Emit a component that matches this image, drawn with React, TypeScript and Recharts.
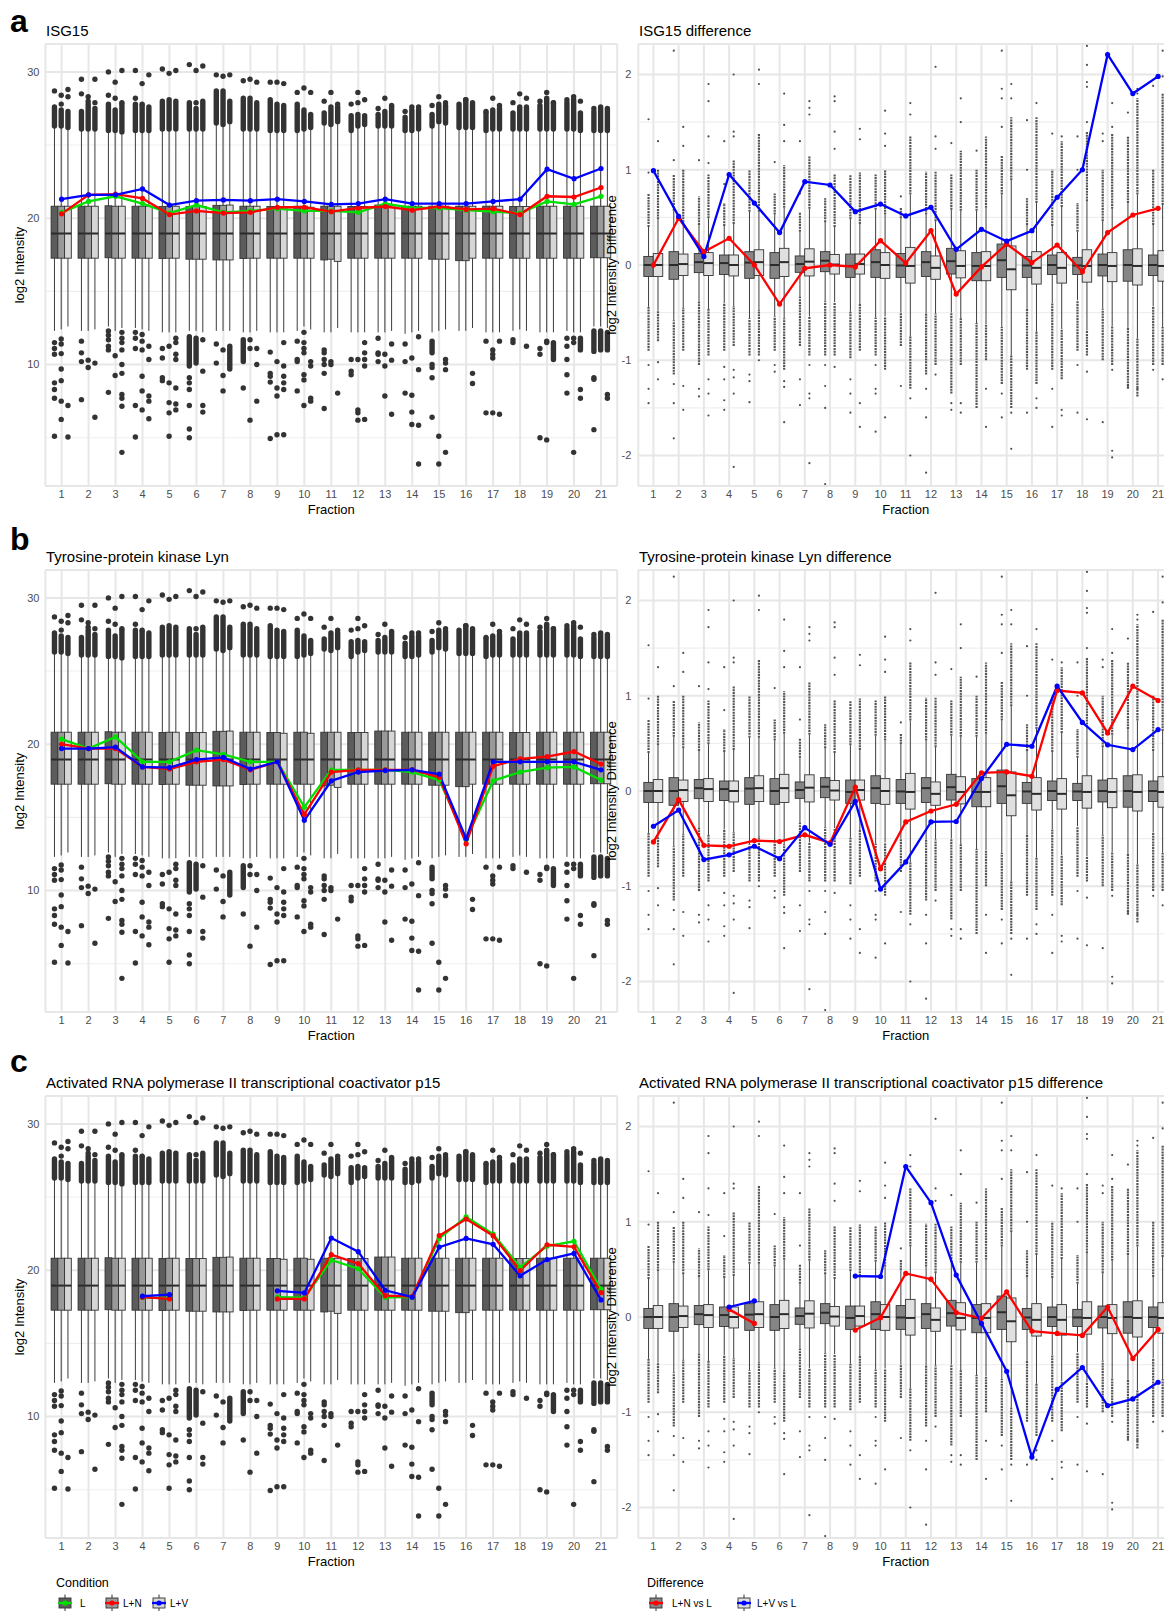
import React from "react";
import { ComposedChart, Bar, Line, XAxis, YAxis, CartesianGrid } from "recharts";

const fractions = ["1", "2", "3", "4", "5", "6", "7", "8", "9", "10", "11", "12", "13", "14", "15", "16", "17", "18", "19", "20", "21"];

// ---------- left panels: log2 intensity distribution per condition ----------
// [lower whisker, q1, median, q3, upper whisker]
const statsL = [
  [12.3, 17.27, 18.95, 20.82, 26.3], [12.3, 17.27, 18.95, 20.82, 26.1], [12.6, 17.3, 18.95, 20.85, 26.0],
  [12.5, 17.27, 18.95, 20.82, 26.0], [12.2, 17.25, 18.95, 20.8, 26.1], [12.3, 17.2, 18.95, 20.8, 26.1],
  [12.3, 17.15, 18.95, 20.88, 26.5], [12.2, 17.25, 18.95, 20.82, 26.1], [12.2, 17.27, 18.95, 20.8, 26.0],
  [12.3, 17.27, 18.95, 20.82, 26.0], [12.2, 17.15, 18.95, 20.82, 26.5], [12.2, 17.27, 18.95, 20.8, 26.0],
  [12.2, 17.27, 18.95, 20.9, 26.3], [12.1, 17.27, 18.95, 20.82, 26.0], [12.2, 17.2, 18.95, 20.82, 26.3],
  [12.3, 17.1, 18.95, 20.82, 26.2], [12.2, 17.27, 18.95, 20.82, 26.0], [12.3, 17.27, 18.95, 20.8, 26.1],
  [12.2, 17.27, 18.95, 20.82, 26.1], [12.3, 17.27, 18.95, 20.82, 26.1], [12.6, 17.3, 18.95, 20.82, 26.0],
];
const statsLN = [
  [12.4, 17.27, 18.95, 20.82, 26.3], [12.3, 17.27, 18.95, 20.82, 26.1], [12.3, 17.27, 18.95, 20.82, 26.0],
  [12.4, 17.27, 18.95, 20.82, 26.0], [12.2, 17.27, 18.95, 20.82, 26.1], [12.3, 17.2, 18.95, 20.8, 26.1],
  [12.3, 17.15, 18.95, 20.88, 26.4], [12.2, 17.27, 18.95, 20.82, 26.1], [12.2, 17.27, 18.95, 20.8, 26.0],
  [12.6, 17.27, 18.95, 20.82, 26.1], [12.2, 17.2, 18.95, 20.82, 26.4], [12.2, 17.27, 18.95, 20.8, 26.3],
  [12.2, 17.27, 18.95, 20.9, 26.3], [12.2, 17.27, 18.95, 20.82, 26.0], [12.3, 17.2, 18.95, 20.82, 26.6],
  [12.3, 17.1, 18.95, 20.82, 26.2], [12.2, 17.27, 18.95, 20.82, 26.1], [12.4, 17.27, 18.95, 20.8, 26.1],
  [12.2, 17.27, 18.95, 20.82, 26.1], [12.2, 17.27, 18.95, 20.82, 26.1], [12.6, 17.3, 18.95, 20.82, 26.0],
];
const statsLV = [
  [12.6, 17.27, 18.95, 20.82, 26.2], [12.4, 17.27, 18.95, 20.82, 26.1], [12.5, 17.27, 18.95, 20.82, 25.9],
  [12.3, 17.27, 18.95, 20.82, 26.0], [12.2, 17.27, 18.95, 20.82, 26.1], [12.2, 17.2, 18.95, 20.8, 26.1],
  [12.3, 17.15, 18.95, 20.9, 26.6], [12.3, 17.27, 18.95, 20.82, 26.1], [12.2, 17.27, 18.95, 20.75, 26.0],
  [12.4, 17.27, 18.95, 20.75, 26.2], [12.5, 17.05, 18.95, 20.82, 26.6], [12.2, 17.27, 18.95, 20.8, 26.4],
  [12.3, 17.27, 18.95, 20.9, 26.3], [12.3, 17.27, 18.95, 20.82, 26.1], [12.4, 17.2, 18.95, 20.82, 26.5],
  [12.5, 17.27, 18.95, 20.82, 26.2], [12.2, 17.27, 18.95, 20.82, 26.1], [12.3, 17.27, 18.95, 20.8, 26.1],
  [12.2, 17.27, 18.95, 20.82, 26.1], [12.2, 17.27, 18.95, 20.82, 26.0], [12.5, 17.3, 18.95, 20.82, 26.0],
];
// dense runs of outliers [from, to]
const topL = [[26.3, 27.6], [26.1, 27.3], [26.0, 27.8], [26.0, 27.8], [26.1, 28.0], [26.1, 27.9], [26.5, 28.7], [26.1, 28.2], [26.0, 28.1], [26.0, 27.8], [26.5, 27.2], [26.0, 27.0], [26.3, 27.1], [26.0, 26.9], [26.3, 27.1], [26.2, 27.8], [26.0, 27.2], [26.1, 27.2], [26.1, 27.7], [26.1, 27.9], [26.0, 27.3]];
const topLN = [[26.3, 27.4], [26.1, 27.8], [26.0, 27.4], [26.0, 27.7], [26.1, 28.1], [26.1, 27.5], [26.4, 28.7], [26.1, 28.2], [26.0, 27.8], [26.1, 27.4], [26.4, 27.6], [26.3, 27.1], [26.3, 27.3], [26.0, 27.4], [26.6, 27.8], [26.2, 28.1], [26.1, 27.4], [26.1, 27.6], [26.1, 28.2], [26.1, 28.1], [26.0, 27.6]];
const topLV = [[26.2, 27.3], [26.1, 27.5], [25.9, 27.8], [26.0, 27.6], [26.1, 28.0], [26.1, 28.0], [26.6, 28.0], [26.1, 27.9], [26.0, 27.7], [26.2, 27.1], [26.6, 27.6], [26.4, 27.0], [26.3, 27.6], [26.1, 27.4], [26.5, 27.7], [26.2, 27.8], [26.1, 27.5], [26.1, 27.6], [26.1, 27.9], [26.0, 27.2], [26.0, 27.5]];
const lowL = [null, null, null, null, null, [9.9, 11.9], null, [10.2, 11.7], null, null, null, null, null, null, [10.8, 11.6], null, null, null, null, null, [10.9, 12.3]];
const lowLN = [null, null, null, null, null, [10.1, 11.8], null, null, null, null, null, null, null, null, null, null, null, null, null, null, [11.0, 12.3]];
const lowLV = [null, null, null, null, null, null, [9.7, 11.25], null, null, null, null, null, null, null, null, null, null, null, [10.35, 11.5], [11.0, 11.8], [11.0, 12.2]];
// single outliers
const outL = [
  [28.7, 11.5, 11.1, 10.7, 8.75, 8.3, 7.7, 5.1], [29.5, 28.5, 11.6, 10.8, 10.2, 7.6], [30.0, 28.4, 12.3, 12.0, 11.7, 11.25, 11.0, 8.1],
  [30.1, 28.2, 12.2, 11.8, 11.1, 7.2, 5.05], [30.2, 11.1, 10.45, 9.1, 8.9], [30.5, 9.1, 8.75, 8.3, 7.2, 5.6, 5.0],
  [29.8, 11.4, 10.1], [29.4, 8.4], [29.3, 10.85, 9.4, 9.2, 8.8, 4.95],
  [28.6, 11.6, 10.35, 10.2, 8.2], [28.0, 11.0, 10.8, 10.35, 10.0, 9.4, 7.0], [27.8, 10.35, 9.55, 9.3],
  [27.5, 11.8, 10.8, 10.7, 10.2], [27.3, 11.4, 10.2, 8.05], [27.7, 10.0, 9.8, 9.1, 6.4],
  [], [27.3, 11.6, 6.7], [27.9, 11.7, 11.5],
  [28.0, 11.1, 10.7, 5.0], [28.1, 11.8, 11.25, 10.35, 9.3, 8.05], [27.5, 9.1, 9.0, 5.55],
];
const outLN = [
  [28.4, 27.8, 11.75, 11.4, 10.75, 9.7, 8.9, 7.5, 6.25], [28.3, 28.0, 10.3, 9.8], [29.3, 28.2, 10.6, 9.25],
  [29.2, 27.8, 12.05, 11.6, 11.0, 9.2, 8.2, 6.9], [29.9, 11.25, 8.75, 7.4, 6.7, 5.1], [30.1, 27.9],
  [29.7, 11.0, 9.25, 8.2], [29.5, 11.7, 11.1, 6.2], [29.3, 10.2, 8.4, 7.85, 5.2],
  [28.9, 12.2, 11.5, 11.1, 10.8, 9.3, 8.95, 7.2], [28.6, 10.2, 10.0], [28.6, 27.9, 10.35, 6.9, 6.7, 6.2],
  [28.2, 10.7, 9.9, 7.85], [27.6, 10.45, 7.9, 6.75, 5.9], [28.3, 5.1, 3.2],
  [28.1], [28.2, 11.0, 10.7, 10.45, 6.7], [28.5],
  [28.6, 11.6, 11.5, 4.85], [28.3, 11.8, 11.5, 4.0], [],
];
const outLV = [
  [28.8, 28.3, 7.2, 5.05], [29.5, 27.9, 10.1, 6.4], [30.1, 27.9, 12.2, 11.8, 11.5, 11.0, 10.0, 9.4, 7.95, 7.7, 7.15, 4.0],
  [29.8, 11.25, 10.35, 7.85, 7.5, 6.3], [30.1, 11.8, 11.5, 10.7, 10.35, 8.4, 7.3, 6.9], [30.4, 11.7, 9.55, 7.2, 6.75],
  [29.8], [29.3, 11.1, 10.0, 7.5], [29.2, 11.5, 9.9, 9.2, 8.75, 8.3, 5.2],
  [28.6, 10.2, 9.9, 7.7, 7.5], [27.8, 8.05], [28.1, 11.5, 10.8, 10.35, 9.9, 6.25],
  [27.7, 11.4, 10.3, 6.6], [27.6, 11.9, 9.65, 5.85, 3.2], [27.9, 10.35, 10.1, 9.65, 4.0],
  [27.9, 9.4, 8.7], [27.7, 11.6, 6.6], [28.2, 11.25],
  [27.9], [28.0, 8.3, 7.7], [7.95, 7.7],
];

// ---------- right panels: log2 difference distribution ----------
const statsNvL = [
  [-0.44, -0.12, 0.0, 0.09, 0.4], [-0.58, -0.15, 0.0, 0.14, 0.57], [-0.38, -0.08, 0.03, 0.12, 0.42],
  [-0.4, -0.1, 0.02, 0.105, 0.41], [-0.56, -0.14, 0.025, 0.14, 0.56], [-0.54, -0.14, 0.0, 0.13, 0.53],
  [-0.33, -0.077, 0.01, 0.095, 0.35], [-0.38, -0.07, 0.045, 0.14, 0.45], [-0.49, -0.13, -0.01, 0.115, 0.48],
  [-0.55, -0.13, 0.03, 0.16, 0.58], [-0.5, -0.13, -0.005, 0.12, 0.49], [-0.51, -0.12, 0.03, 0.14, 0.53],
  [-0.5, -0.095, 0.04, 0.175, 0.58], [-0.61, -0.165, -0.01, 0.13, 0.57], [-0.65, -0.13, 0.05, 0.22, 0.74],
  [-0.46, -0.13, -0.005, 0.09, 0.42], [-0.4, -0.1, 0.0, 0.105, 0.41], [-0.37, -0.1, -0.005, 0.08, 0.35],
  [-0.46, -0.115, 0.0, 0.115, 0.46], [-0.66, -0.17, 0.0, 0.16, 0.65], [-0.43, -0.11, 0.0, 0.105, 0.42],
];
const statsVvL = [
  [-0.48, -0.12, 0.0, 0.12, 0.48], [-0.45, -0.11, 0.01, 0.115, 0.45], [-0.46, -0.11, 0.02, 0.13, 0.49],
  [-0.43, -0.115, 0.0, 0.105, 0.43], [-0.47, -0.11, 0.03, 0.16, 0.56], [-0.56, -0.12, 0.03, 0.175, 0.6],
  [-0.54, -0.115, 0.035, 0.17, 0.59], [-0.39, -0.095, 0.005, 0.11, 0.4], [-0.41, -0.095, 0.01, 0.115, 0.43],
  [-0.54, -0.14, 0.0, 0.13, 0.53], [-0.75, -0.19, -0.01, 0.185, 0.74], [-0.51, -0.15, -0.03, 0.095, 0.46],
  [-0.56, -0.135, -0.01, 0.15, 0.57], [-0.62, -0.165, -0.01, 0.14, 0.6], [-0.95, -0.26, -0.045, 0.2, 0.89],
  [-0.7, -0.2, -0.03, 0.14, 0.65], [-0.67, -0.19, -0.03, 0.13, 0.61], [-0.68, -0.18, -0.01, 0.16, 0.67],
  [-0.64, -0.175, -0.01, 0.13, 0.59], [-0.77, -0.21, -0.01, 0.17, 0.74], [-0.65, -0.17, -0.01, 0.15, 0.63],
];
const topNvL = [[0.4, 0.75], [0.57, 0.95], [0.42, 0.72], [0.41, 0.65], [0.56, 1.0], [0.53, 0.75], [0.35, 0.55], [0.45, 0.7], [0.48, 0.95], [0.58, 0.95], [0.49, 0.6], [0.53, 0.98], [0.58, 0.95], [0.57, 1.0], [0.74, 1.15], [0.42, 0.7], [0.41, 1.0], [0.35, 0.65], [0.46, 1.0], [0.65, 1.35], [0.42, 1.0]];
const topVvL = [[0.48, 1.0], [0.45, 1.0], [0.49, 0.95], [0.43, 1.1], [0.56, 1.38], [0.6, 1.05], [0.59, 1.15], [0.4, 0.95], [0.43, 0.97], [0.53, 1.0], [0.74, 1.35], [0.46, 0.98], [0.57, 1.2], [0.6, 1.35], [0.89, 1.55], [0.65, 1.55], [0.61, 1.3], [0.67, 1.4], [0.59, 1.38], [0.74, 1.75], [0.63, 1.8]];
const lowNvL = [[-0.9, -0.44], [-1.15, -0.58], [-1.05, -0.38], [-0.9, -0.4], [-0.95, -0.56], [-0.9, -0.54], [-0.85, -0.33], [-0.95, -0.38], [-0.98, -0.49], [-0.95, -0.55], [-0.85, -0.5], [-1.15, -0.51], [-1.35, -0.5], [-1.5, -0.61], [-1.25, -0.65], [-1.1, -0.46], [-1.1, -0.4], [-0.9, -0.37], [-1.0, -0.46], [-1.3, -0.66], [-1.05, -0.43]];
const lowVvL = [[-0.8, -0.48], [-0.9, -0.45], [-0.95, -0.46], [-0.85, -0.43], [-0.95, -0.47], [-1.1, -0.56], [-0.95, -0.54], [-0.95, -0.39], [-0.9, -0.41], [-1.1, -0.54], [-1.3, -0.75], [-1.05, -0.51], [-1.05, -0.56], [-1.0, -0.62], [-1.5, -0.95], [-1.25, -0.7], [-1.2, -0.67], [-0.95, -0.68], [-1.05, -0.64], [-1.38, -0.77], [-1.05, -0.65]];
const outNvL = [
  [0.97, 1.53, -1.05, -1.3, -1.45], [1.1, 2.25, -1.25, -1.45, -1.82], [1.1, -1.3, -1.38],
  [0.85, 1.3, -1.07, -1.2, -1.42, -1.52], [-1.15, -1.22, -1.44], [1.08, -1.05, -1.12],
  [0.75, 1.3, -1.2, -1.47], [-1.05, -1.27, -1.5, -2.3], [-1.2, -1.35, -1.55],
  [-1.05, -1.3, -1.35, -1.75], [0.72, -1.27], [-1.3, -1.6, -2.18],
  [1.28, -1.45, -1.52], [1.2], [1.45, 1.75, 1.85, 2.25, -1.35, -1.6],
  [1.0, 1.52, -1.55], [1.38, -1.3, -1.7], [1.0, 1.35, -1.05, -1.55],
  [1.3, 1.38, -1.65], [1.6, -1.27], [1.88, -1.1],
];
const outVvL = [
  [1.3, -1.02, -1.2], [1.25, 1.45, -1.27, -1.52], [1.07, 1.35, 1.72, 1.9, -1.2, -1.35, -1.58],
  [1.35, 1.4, 2.0, -1.1, -1.18, -1.35, -2.12], [1.9, 2.05, -1.0], [1.3, 1.47, 1.8, -1.22, -1.28, -1.65],
  [1.58, 1.65, 1.72, -1.05, -1.35, -1.4, -2.08], [1.22, 1.4, 1.72, 1.77, -1.07], [1.32, 1.43, -1.45, -1.7],
  [1.25, 1.38, 1.62, -1.6], [1.58, 1.7, -1.4, -2.0], [1.22, 1.35, 2.08, -1.15],
  [1.5, 1.75, -1.45, -1.55], [-1.3, -1.7], [1.75, 1.9, -1.55, -1.93],
  [1.7, -1.4, -1.5], [1.35, -1.52, -1.58], [1.5, 1.87, 1.92, 2.1, 2.3, -1.12, -1.62],
  [1.45, 1.7, -1.1, -1.95, -2.02], [1.8, 1.85, -1.3], [1.98, 2.25, -1.2],
];

// ---------- protein profiles ----------
const isgL = [20.4, 21.15, 21.5, 21.0, 20.35, 20.9, 20.4, 20.5, 20.65, 20.5, 20.5, 20.4, 21.0, 20.7, 20.7, 20.55, 20.45, 20.35, 21.15, 20.95, 21.5];
const isgLN = [20.3, 21.6, 21.65, 21.35, 20.25, 20.5, 20.35, 20.4, 20.75, 20.75, 20.45, 20.7, 20.8, 20.55, 20.8, 20.6, 20.65, 20.25, 21.5, 21.45, 22.1];
const isgLV = [21.3, 21.6, 21.6, 22.0, 20.9, 21.2, 21.25, 21.2, 21.3, 21.15, 20.95, 21.0, 21.3, 21.0, 21.0, 21.0, 21.15, 21.3, 23.35, 22.7, 23.4];
const isgDiffLN = [0.0, 0.49, 0.14, 0.28, 0.0, -0.41, -0.035, 0.0, -0.02, 0.255, 0.02, 0.36, -0.305, -0.02, 0.22, 0.025, 0.21, -0.07, 0.34, 0.525, 0.595];
const isgDiffLV = [0.99, 0.51, 0.09, 0.95, 0.65, 0.34, 0.875, 0.84, 0.56, 0.64, 0.515, 0.605, 0.165, 0.375, 0.25, 0.36, 0.71, 1.0, 2.21, 1.8, 1.98];

const lynL = [20.35, 19.7, 20.5, 18.8, 18.8, 19.6, 19.3, 18.8, 18.8, 15.7, 18.25, 18.25, 18.25, 18.1, 17.55, 13.5, 17.5, 18.1, 18.4, 18.45, 17.55];
const lynLN = [20.0, 19.7, 19.7, 18.45, 18.3, 18.8, 18.95, 18.25, 18.8, 15.2, 18.1, 18.25, 18.25, 18.25, 17.75, 13.2, 18.5, 19.0, 19.15, 19.5, 18.65];
const lynLV = [19.7, 19.7, 19.8, 18.45, 18.4, 18.95, 19.1, 18.3, 18.8, 14.8, 17.5, 18.1, 18.2, 18.25, 17.95, 13.55, 18.8, 18.8, 18.8, 18.8, 18.25];
const lynDiffLN = [-0.535, -0.09, -0.57, -0.58, -0.52, -0.53, -0.46, -0.545, 0.04, -0.815, -0.325, -0.21, -0.14, 0.19, 0.2, 0.155, 1.055, 1.03, 0.61, 1.1, 0.95];
const lynDiffLV = [-0.37, -0.2, -0.72, -0.67, -0.58, -0.71, -0.385, -0.56, -0.11, -1.03, -0.745, -0.325, -0.32, 0.13, 0.49, 0.47, 1.1, 0.72, 0.485, 0.435, 0.645];

const p15L = [null, null, null, 18.14, 18.1, null, null, null, 18.16, 18.12, 20.7, 20.1, 18.14, 18.16, 22.17, 23.65, 22.47, 20.2, 21.65, 21.98, 18.7];
const p15LN = [null, null, null, 18.16, 18.04, null, null, null, 18.04, 18.04, 21.06, 20.45, 18.26, 18.2, 22.36, 23.5, 22.36, 19.98, 21.74, 21.6, 18.47];
const p15LV = [null, null, null, 18.23, 18.33, null, null, null, 18.59, 18.45, 22.2, 21.27, 18.63, 18.16, 21.58, 22.17, 21.77, 19.62, 20.73, 21.15, 17.97];
const p15DiffLN = [null, null, null, 0.08, -0.067, null, null, null, -0.137, -0.007, 0.457, 0.397, 0.046, -0.014, 0.264, -0.148, -0.172, -0.193, 0.105, -0.436, -0.13];
const p15DiffLV = [null, null, null, 0.105, 0.17, null, null, null, 0.43, 0.425, 1.58, 1.2, 0.44, -0.067, -0.57, -1.47, -0.76, -0.53, -0.93, -0.86, -0.685];

const GREEN = "#00e000";
const RED = "#ff0000";
const BLUE = "#0000ff";

type Box = { s: number[]; top: number[] | null; low: number[] | null; out: number[]; lo: number; hi: number };

const makeBoxes = (stats: number[][], top: (number[] | null)[], low: (number[] | null)[], out: number[][]): Box[] =>
  stats.map((s, i) => {
    const all = [...s, ...(top[i] || []), ...(low[i] || []), ...out[i]];
    return { s, top: top[i], low: low[i], out: out[i], lo: Math.min(...all), hi: Math.max(...all) };
  });

const leftBoxes = [
  makeBoxes(statsL, topL, lowL, outL),
  makeBoxes(statsLN, topLN, lowLN, outLN),
  makeBoxes(statsLV, topLV, lowLV, outLV),
];
const rightBoxes = [makeBoxes(statsNvL, topNvL, lowNvL, outNvL), makeBoxes(statsVvL, topVvL, lowVvL, outVvL)];

const buildRows = (boxes: Box[][], series: (number | null)[][]) =>
  fractions.map((f, i) => {
    const row: any = { f, boxes: boxes.map((b) => b[i]) };
    series.forEach((s, k) => {
      row["s" + k] = s[i];
    });
    return row;
  });

// the range each box covers (whiskers + outliers), used as a floating bar
const rangeKeys = [0, 1, 2].map((k) => (d: any) => [d.boxes[k].lo, d.boxes[k].hi]);

const LEFT = {
  width: 620, height: 516, margin: { top: 44.1, right: 2.8, bottom: 0, left: 5.4 }, yWidth: 40,
  domain: [1.7, 31.9], ticks: [10, 20, 30], minor: [5, 15, 25], barSize: 6.74, pad: 2.7,
  fills: ["#5c5c5c", "#999999", "#d6d6d6"], dotR: 2.7, dotColor: "#333333",
  denseW: 5.4, denseColor: "#333333", denseDash: undefined, denseCap: "round", tickMargin: 6,
};
const RIGHT = {
  width: 600, height: 516, margin: { top: 44, right: 26.8, bottom: 0, left: 8.3 }, yWidth: 30,
  domain: [-2.32, 2.32], ticks: [-2, -1, 0, 1, 2], minor: [-1.5, -0.5, 0.5, 1.5], barSize: 9.46, pad: 2.52,
  fills: ["#858585", "#e0e0e0"], dotR: 1.1, dotColor: "#505050",
  denseW: 2.2, denseColor: "#555555", denseDash: "2 0.8", denseCap: "butt", tickMargin: 7,
};

function BoxShape(props: any) {
  const { x, y, width, height, box, cfg, boxFill } = props;
  if (!box || height == null || isNaN(y)) return null;
  const top = Math.min(y, y + height);
  const bot = Math.max(y, y + height);
  const span = box.hi - box.lo || 1;
  const sy = (v: number) => top + ((box.hi - v) / span) * (bot - top);
  const cx = x + width / 2;
  const [wlo, q1, med, q3, whi] = box.s;
  const dense = (run: number[]) => (
    <line
      x1={cx}
      x2={cx}
      y1={sy(run[0])}
      y2={sy(run[1])}
      stroke={cfg.denseColor}
      strokeWidth={cfg.denseW}
      strokeLinecap={cfg.denseCap}
      strokeDasharray={cfg.denseDash}
    />
  );
  return (
    <g>
      <line x1={cx} x2={cx} y1={sy(whi)} y2={sy(wlo)} stroke="#3d3d3d" strokeWidth={1} />
      {box.low && dense(box.low)}
      {box.top && dense(box.top)}
      <rect x={x} y={sy(q3)} width={width} height={sy(q1) - sy(q3)} fill={boxFill} stroke="#333333" strokeWidth={0.9} />
      <line x1={x} x2={x + width} y1={sy(med)} y2={sy(med)} stroke="#2a2a2a" strokeWidth={2} />
      {box.out.map((v: number, i: number) => (
        <circle key={i} cx={cx} cy={sy(v)} r={cfg.dotR} fill={cfg.dotColor} />
      ))}
    </g>
  );
}

function Panel({ data, cfg, colors }: { data: any[]; cfg: any; colors: string[] }) {
  const nBoxes = cfg.fills.length;
  return (
    <ComposedChart width={cfg.width} height={cfg.height} data={data} margin={cfg.margin} barGap={0}>
      <CartesianGrid vertical={false} horizontalValues={cfg.minor} stroke="#efefef" strokeWidth={1.1} />
      <CartesianGrid stroke="#e7e7e7" strokeWidth={2} />
      <XAxis
        dataKey="f"
        type="category"
        interval={0}
        tickLine={false}
        axisLine={false}
        tickSize={0}
        tickMargin={4}
        height={30}
        padding={{ left: cfg.pad, right: cfg.pad }}
        tick={{ fill: "#4d4d4d", fontSize: 11 }}
      />
      <YAxis
        type="number"
        domain={cfg.domain}
        ticks={cfg.ticks}
        allowDataOverflow
        tickLine={false}
        axisLine={false}
        tickSize={0}
        tickMargin={cfg.tickMargin}
        width={cfg.yWidth}
        tick={{ fill: "#4d4d4d", fontSize: 11 }}
      />
      {Array.from({ length: nBoxes }).map((_, k) => (
        <Bar
          key={"b" + k}
          dataKey={rangeKeys[k]}
          barSize={cfg.barSize}
          isAnimationActive={false}
          shape={(p: any) => <BoxShape {...p} box={p.payload?.boxes?.[k]} cfg={cfg} boxFill={cfg.fills[k]} />}
        />
      ))}
      {colors.map((c, k) => (
        <Line
          key={"l" + k}
          dataKey={"s" + k}
          stroke={c}
          strokeWidth={2.3}
          dot={{ r: 2.6, fill: c, stroke: c, strokeWidth: 0 }}
          activeDot={false}
          isAnimationActive={false}
        />
      ))}
    </ComposedChart>
  );
}

const rows = [
  {
    top: 0, letter: "a", letterY: 31.5, title: "ISG15",
    left: buildRows(leftBoxes, [isgL, isgLN, isgLV]),
    right: buildRows(rightBoxes, [isgDiffLN, isgDiffLV]),
  },
  {
    top: 526, letter: "b", letterY: 550, title: "Tyrosine-protein kinase Lyn",
    left: buildRows(leftBoxes, [lynL, lynLN, lynLV]),
    right: buildRows(rightBoxes, [lynDiffLN, lynDiffLV]),
  },
  {
    top: 1052, letter: "c", letterY: 1071.5, title: "Activated RNA polymerase II transcriptional coactivator p15",
    left: buildRows(leftBoxes, [p15L, p15LN, p15LV]),
    right: buildRows(rightBoxes, [p15DiffLN, p15DiffLV]),
  },
];

function LegendKey({ x, y, fill, color }: { x: number; y: number; fill: string; color: string }) {
  return (
    <g transform={`translate(${x},${y})`}>
      <line x1={7} x2={7} y1={0} y2={17} stroke="#333" strokeWidth={1} />
      <rect x={1} y={3.5} width={12} height={10} fill={fill} stroke="#333" strokeWidth={0.9} />
      <line x1={0} x2={14} y1={8.5} y2={8.5} stroke={color} strokeWidth={2.3} />
      <circle cx={7} cy={8.5} r={2.6} fill={color} />
    </g>
  );
}

export default function App() {
  const font = "'Liberation Sans', Arial, Helvetica, sans-serif";
  return (
    <div style={{ position: "absolute", left: 0, top: 0, width: 1164, height: 1611, overflow: "hidden", background: "#fff", fontFamily: font }}>
      {rows.map((r) => (
        <React.Fragment key={r.letter}>
          <div style={{ position: "absolute", left: 0, top: r.top }}>
            <Panel data={r.left} cfg={LEFT} colors={[GREEN, RED, BLUE]} />
          </div>
          <div style={{ position: "absolute", left: 600, top: r.top }}>
            <Panel data={r.right} cfg={RIGHT} colors={[RED, BLUE]} />
          </div>
        </React.Fragment>
      ))}
      <svg width={1164} height={1611} style={{ position: "absolute", left: 0, top: 0, pointerEvents: "none", fontFamily: font }}>
        {rows.map((r) => (
          <g key={r.letter}>
            <text x={10} y={r.letterY} fontSize={32} fontWeight="bold" fill="#000">{r.letter}</text>
            <text x={46} y={r.top + 36} fontSize={15} fill="#000">{r.title}</text>
            <text x={639} y={r.top + 36} fontSize={15} fill="#000">{r.title + " difference"}</text>
            <text transform={`translate(23.5,${r.top + 265}) rotate(-90)`} textAnchor="middle" fontSize={13} fill="#000">log2 Intensity</text>
            <text transform={`translate(616,${r.top + 265}) rotate(-90)`} textAnchor="middle" fontSize={13} fill="#000">log2 Intensity Difference</text>
            <text x={331.3} y={r.top + 514} textAnchor="middle" fontSize={13} fill="#000">Fraction</text>
            <text x={905.8} y={r.top + 514} textAnchor="middle" fontSize={13} fill="#000">Fraction</text>
          </g>
        ))}
        <text x={56} y={1587} fontSize={12.5} fill="#000">Condition</text>
        <LegendKey x={58} y={1594.5} fill={LEFT.fills[0]} color={GREEN} />
        <text x={80} y={1607} fontSize={10} fill="#000">L</text>
        <LegendKey x={105} y={1594.5} fill={LEFT.fills[1]} color={RED} />
        <text x={123} y={1607} fontSize={10} fill="#000">L+N</text>
        <LegendKey x={152} y={1594.5} fill={LEFT.fills[2]} color={BLUE} />
        <text x={170} y={1607} fontSize={10} fill="#000">L+V</text>
        <text x={647} y={1587} fontSize={12.5} fill="#000">Difference</text>
        <LegendKey x={649} y={1594.5} fill={RIGHT.fills[0]} color={RED} />
        <text x={672} y={1607} fontSize={10} fill="#000">L+N vs L</text>
        <LegendKey x={737} y={1594.5} fill={RIGHT.fills[1]} color={BLUE} />
        <text x={757} y={1607} fontSize={10} fill="#000">L+V vs L</text>
      </svg>
    </div>
  );
}
